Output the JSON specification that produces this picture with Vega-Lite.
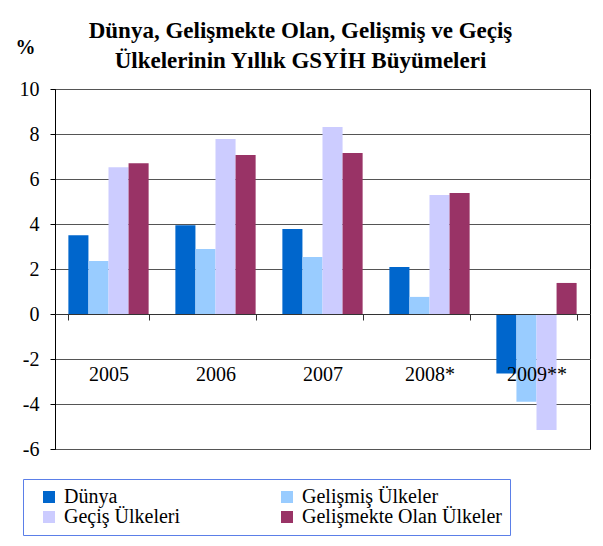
{
  "$schema": "https://vega.github.io/schema/vega-lite/v6.json",
  "width": 535,
  "height": 360,
  "autosize": {"type": "none"},
  "padding": {"left": 55, "top": 89, "right": 13, "bottom": 97},
  "background": "white",
  "title": {
    "text": ["Dünya, Gelişmekte Olan, Gelişmiş ve Geçiş", "Ülkelerinin Yıllık GSYİH Büyümeleri"],
    "font": "Liberation Serif",
    "fontSize": 23,
    "fontWeight": "bold",
    "color": "black",
    "anchor": "middle",
    "dx": -22,
    "offset": -36,
    "lineHeight": 30
  },
  "data": {
    "values": [
      {"year": "2005", "series": "Dünya", "value": 3.5},
      {"year": "2005", "series": "Gelişmiş Ülkeler", "value": 2.36},
      {"year": "2005", "series": "Geçiş Ülkeleri", "value": 6.52},
      {"year": "2005", "series": "Gelişmekte Olan Ülkeler", "value": 6.7},
      {"year": "2006", "series": "Dünya", "value": 3.94},
      {"year": "2006", "series": "Gelişmiş Ülkeler", "value": 2.89},
      {"year": "2006", "series": "Geçiş Ülkeleri", "value": 7.78},
      {"year": "2006", "series": "Gelişmekte Olan Ülkeler", "value": 7.07},
      {"year": "2007", "series": "Dünya", "value": 3.78},
      {"year": "2007", "series": "Gelişmiş Ülkeler", "value": 2.53},
      {"year": "2007", "series": "Geçiş Ülkeleri", "value": 8.31},
      {"year": "2007", "series": "Gelişmekte Olan Ülkeler", "value": 7.16},
      {"year": "2008*", "series": "Dünya", "value": 2.09},
      {"year": "2008*", "series": "Gelişmiş Ülkeler", "value": 0.76},
      {"year": "2008*", "series": "Geçiş Ülkeleri", "value": 5.29},
      {"year": "2008*", "series": "Gelişmekte Olan Ülkeler", "value": 5.38},
      {"year": "2009**", "series": "Dünya", "value": -2.64},
      {"year": "2009**", "series": "Gelişmiş Ülkeler", "value": -3.9},
      {"year": "2009**", "series": "Geçiş Ülkeleri", "value": -5.16},
      {"year": "2009**", "series": "Gelişmekte Olan Ülkeler", "value": 1.38}
    ]
  },
  "mark": {"type": "bar"},
  "encoding": {
    "x": {
      "field": "year",
      "type": "nominal",
      "sort": ["2005", "2006", "2007", "2008*", "2009**"],
      "scale": {"paddingInner": 0.25, "paddingOuter": 0.125},
      "axis": {
        "title": null,
        "orient": "bottom",
        "offset": -135,
        "zindex": 1,
        "domainColor": "#333333",
        "tickColor": "#333333",
        "tickSize": 6,
        "tickBand": "extent",
        "labelPadding": 44,
        "labelFont": "Liberation Serif",
        "labelFontSize": 20,
        "labelColor": "black",
        "labelAngle": 0,
        "grid": false
      }
    },
    "xOffset": {
      "field": "series",
      "sort": ["Dünya", "Gelişmiş Ülkeler", "Geçiş Ülkeleri", "Gelişmekte Olan Ülkeler"]
    },
    "y": {
      "field": "value",
      "type": "quantitative",
      "scale": {"domain": [-6, 10], "nice": false},
      "axis": {
        "title": "%",
        "titleAngle": 0,
        "titleX": -40,
        "titleY": -36,
        "titleAlign": "left",
        "titleBaseline": "alphabetic",
        "titleFont": "Liberation Serif",
        "titleFontSize": 20,
        "titleFontWeight": "bold",
        "titleColor": "black",
        "values": [-6, -4, -2, 0, 2, 4, 6, 8, 10],
        "labelExpr": "'' + datum.value",
        "labelFont": "Liberation Serif",
        "labelFontSize": 20,
        "labelColor": "black",
        "labelPadding": 11,
        "tickSize": 5,
        "tickColor": "black",
        "domainColor": "black",
        "grid": true,
        "gridColor": "#555555",
        "gridWidth": 1
      }
    },
    "color": {
      "field": "series",
      "type": "nominal",
      "sort": ["Dünya", "Gelişmiş Ülkeler", "Geçiş Ülkeleri", "Gelişmekte Olan Ülkeler"],
      "scale": {
        "domain": ["Dünya", "Gelişmiş Ülkeler", "Geçiş Ülkeleri", "Gelişmekte Olan Ülkeler"],
        "range": ["#0066cc", "#99ccff", "#ccccff", "#993366"]
      },
      "legend": {
        "title": null,
        "orient": "none",
        "legendX": -32,
        "legendY": 390,
        "direction": "horizontal",
        "columns": 2,
        "strokeColor": "#5b7fe8",
        "padding": 8,
        "symbolType": "square",
        "symbolSize": 144,
        "symbolOffset": 8,
        "symbolStrokeWidth": 0,
        "labelFont": "Liberation Serif",
        "labelFontSize": 20,
        "labelColor": "black",
        "labelOffset": 5,
        "labelLimit": 300,
        "columnPadding": 88,
        "rowPadding": 0
      }
    }
  },
  "config": {
    "font": "Liberation Serif",
    "view": {"stroke": "black", "strokeWidth": 1}
  }
}
